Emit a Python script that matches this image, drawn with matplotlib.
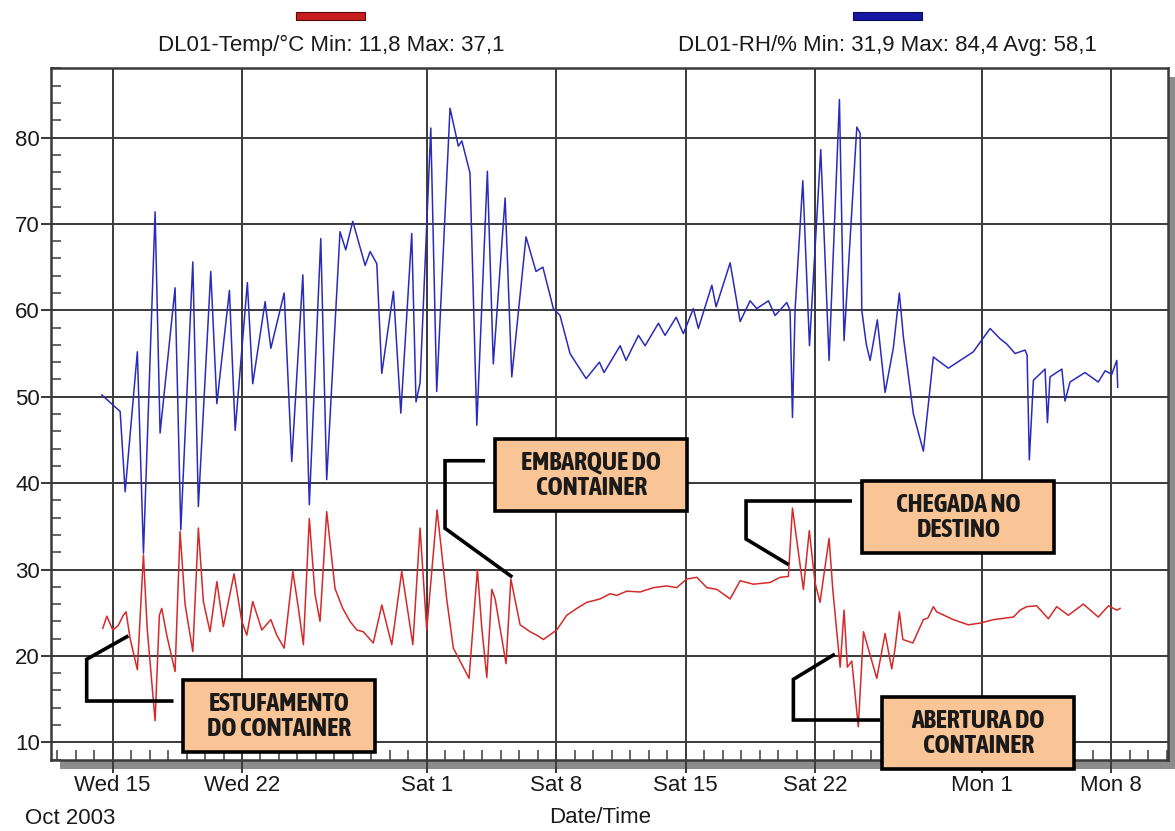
import matplotlib
matplotlib.use("Agg")
import numpy as np
import matplotlib.pyplot as plt
import matplotlib.dates as mdates
from matplotlib.patches import Rectangle
from matplotlib.ticker import FixedLocator, MultipleLocator

plt.rcParams["font.family"] = ["Liberation Sans", "DejaVu Sans"]

# days since Wed 15 Oct 2003
rh_day = [-0.58, 0.41, 0.68, 1.34, 1.67, 2.30, 2.57, 3.38, 3.69, 4.34,
          4.64, 5.31, 5.64, 6.32, 6.63, 7.29, 7.58, 8.25, 8.56, 9.28,
          9.69, 10.29, 10.64, 11.26, 11.58, 12.30, 12.61, 12.99, 13.66, 13.93,
          14.29, 14.56, 15.19, 15.59, 16.18, 16.41, 16.63, 17.21, 17.53, 18.25,
          18.70, 18.89, 19.33, 19.70, 20.27, 20.59, 21.23, 21.59, 22.36, 22.90,
          23.27, 23.84, 24.20, 24.74, 25.61, 26.33, 26.58, 27.45, 27.77, 28.44,
          28.80, 29.52, 29.88, 30.48, 30.87, 31.41, 31.68, 32.41, 32.64, 33.40,
          33.94, 34.48, 34.84, 35.47, 35.83, 36.46, 36.64, 36.77, 36.91, 37.33,
          37.69, 38.30, 38.75, 39.31, 39.56, 40.25, 40.43, 40.52, 40.76, 40.97,
          41.36, 41.78, 42.23, 42.55, 42.77, 43.31, 43.85, 44.39, 45.20, 45.84,
          46.55, 47.46, 48.00, 48.36, 48.81, 49.35, 49.46, 49.58, 49.80, 50.43,
          50.56, 50.70, 51.34, 51.51, 51.78, 52.59, 53.31, 53.68, 54.04, 54.31,
          54.36]
rh_val = [50.2, 48.3, 39.0, 55.2, 31.9, 71.4, 45.8, 62.6, 34.6, 65.6,
          37.3, 64.5, 49.2, 62.3, 46.1, 63.2, 51.5, 61.0, 55.6, 62.0,
          42.5, 64.1, 37.5, 68.3, 40.4, 69.1, 67.0, 70.3, 65.2, 66.8,
          65.4, 52.7, 62.2, 48.1, 68.9, 49.4, 51.6, 81.1, 50.6, 83.4,
          79.0, 79.6, 75.9, 46.7, 76.1, 53.8, 73.0, 52.3, 68.5, 64.5,
          65.0, 60.2, 59.4, 55.0, 52.1, 54.0, 52.8, 55.9, 54.2, 57.1,
          55.9, 58.5, 57.1, 59.2, 57.3, 60.2, 57.9, 62.9, 60.4, 65.5,
          58.7, 61.1, 60.2, 61.1, 59.4, 60.9, 60.0, 47.6, 60.0, 75.0,
          55.9, 78.6, 54.2, 84.4, 56.5, 81.2, 80.5, 60.0, 56.1, 54.2,
          58.9, 50.5, 55.7, 62.0, 56.9, 48.0, 43.7, 54.6, 53.3, 54.2,
          55.2, 57.9, 56.7, 56.1, 55.0, 55.4, 54.8, 42.7, 51.9, 53.2,
          47.0, 52.3, 53.2, 49.5, 51.7, 52.8, 51.7, 53.0, 52.6, 54.2,
          51.1]

temp_day = [-0.53, -0.31, 0.01, 0.30, 0.58, 0.73, 0.95, 1.34, 1.67, 1.87,
            2.30, 2.53, 2.66, 2.93, 3.38, 3.65, 3.92, 4.34, 4.64, 4.91,
            5.27, 5.64, 5.99, 6.57, 6.99, 7.26, 7.58, 8.07, 8.56, 8.88,
            9.28, 9.75, 10.05, 10.32, 10.64, 10.95, 11.22, 11.58, 12.03, 12.45,
            12.84, 13.21, 13.56, 14.10, 14.56, 15.10, 15.64, 16.24, 16.63, 16.99,
            17.55, 18.07, 18.43, 19.28, 19.73, 19.97, 20.24, 20.51, 20.69, 21.28,
            21.54, 22.04, 22.58, 22.94, 23.30, 24.02, 24.56, 25.11, 25.65, 26.37,
            26.91, 27.27, 27.81, 28.53, 29.25, 29.97, 30.51, 31.05, 31.60, 32.14,
            32.68, 33.40, 33.94, 34.66, 35.56, 36.10, 36.55, 36.77, 37.36, 37.68,
            37.99, 38.26, 38.75, 38.95, 39.35, 39.56, 39.74, 39.98, 40.33, 40.61,
            41.33, 41.78, 42.14, 42.32, 42.55, 42.74, 43.28, 43.85, 44.10, 44.39,
            44.57, 45.47, 46.28, 46.92, 47.64, 48.72, 49.08, 49.44, 49.98, 50.61,
            51.06, 51.69, 52.50, 53.31, 53.86, 54.31, 54.49]
temp_val = [23.2, 24.6, 23.0, 23.5, 24.7, 25.1, 22.0, 18.4, 31.7, 23.2,
            12.5, 24.7, 25.5, 22.4, 18.2, 34.4, 26.0, 20.5, 34.8, 26.3,
            22.8, 28.6, 23.4, 29.5, 24.0, 22.4, 26.3, 23.0, 24.2, 22.4,
            20.9, 29.8, 25.5, 21.3, 35.9, 27.1, 24.0, 36.7, 27.8, 25.5,
            24.0, 23.0, 22.8, 21.5, 25.9, 21.3, 29.8, 21.3, 34.8, 23.0,
            36.9, 26.6, 20.9, 17.4, 30.0, 23.2, 17.5, 27.7, 26.6, 19.1,
            28.9, 23.6, 22.8, 22.4, 21.9, 23.0, 24.7, 25.5, 26.2, 26.6,
            27.2, 27.0, 27.5, 27.4, 27.9, 28.1, 27.9, 28.9, 29.1, 27.9,
            27.7, 26.6, 28.7, 28.3, 28.5, 29.1, 29.2, 37.1, 27.7, 34.5,
            28.5, 26.2, 33.6, 27.7, 18.7, 25.3, 18.7, 19.4, 11.8, 22.8,
            17.4, 22.6, 18.5, 20.9, 25.1, 21.9, 21.5, 24.2, 24.4, 25.7,
            25.1, 24.2, 23.6, 23.8, 24.2, 24.5, 25.3, 25.7, 25.8, 24.3,
            25.7, 24.7, 26.0, 24.5, 25.8, 25.3, 25.5]

tick_dates = ["2003-10-15", "2003-10-22", "2003-11-01", "2003-11-08",
              "2003-11-15", "2003-11-22", "2003-12-01", "2003-12-08"]
tick_labels = ["Wed 15", "Wed 22", "Sat 1", "Sat 8", "Sat 15", "Sat 22", "Mon 1", "Mon 8"]

temp_label = "DL01-Temp/°C Min: 11,8 Max: 37,1"
rh_label = "DL01-RH/% Min: 31,9 Max: 84,4 Avg: 58,1"

notes = ["ESTUFAMENTO\nDO CONTAINER", "EMBARQUE DO\nCONTAINER",
         "CHEGADA NO\nDESTINO", "ABERTURA DO\nCONTAINER"]
note_left = [3.81, 20.68, 40.54, 41.62]
note_bottom = [8.9, 36.8, 31.9, 6.9]
leader_day = [[3.20, -1.40, -1.40, 0.77], [20.05, 17.98, 17.98, 21.54],
              [39.89, 34.26, 34.26, 36.48], [41.42, 36.82, 36.82, 38.98]]
leader_val = [[14.78, 14.78, 19.61, 22.22], [42.59, 42.59, 34.77, 29.25],
              [37.93, 37.93, 33.53, 30.67], [12.58, 12.58, 17.29, 20.10]]

W, H = 1175, 831
x0 = mdates.datestr2num("2003-10-15")

fig = plt.figure(figsize=(W / 100, H / 100), dpi=100)
ax_box = [51 / W, 1 - 759.6 / H, 1117 / W, 691.2 / H]
ax = fig.add_axes(ax_box)
ax.set_zorder(1)

# drop shadow behind the plot frame
fig.add_artist(Rectangle((ax_box[0] + 9 / W, ax_box[1] - 9 / H), ax_box[2], ax_box[3],
                         transform=fig.transFigure, facecolor="#8c8c8c",
                         edgecolor="none", zorder=0))

ax.plot(x0 + np.array(temp_day), temp_val, color="#d42a2a", lw=1.1, zorder=3)
ax.plot(x0 + np.array(rh_day), rh_val, color="#2b2bbb", lw=1.1, zorder=3)

ax.set_xlim(x0 - 3.33, x0 + 57.08)
ax.set_ylim(8, 88)
ax.xaxis.set_major_locator(FixedLocator(mdates.datestr2num(tick_dates)))
ax.set_xticklabels(tick_labels)
ax.xaxis.set_minor_locator(MultipleLocator(1))
ax.yaxis.set_major_locator(FixedLocator(np.arange(10, 81, 10)))
ax.yaxis.set_minor_locator(MultipleLocator(2))

ax.grid(which="major", color="#3a3a3a", lw=1.4)
for s in ax.spines.values():
    s.set_color("#3a3a3a")
    s.set_linewidth(1.8)
ax.tick_params(axis="both", which="major", direction="out", labelsize=16,
               color="#3a3a3a", width=1.4, colors="#1a1a1a")
ax.tick_params(axis="x", which="major", length=9, pad=2)
ax.tick_params(axis="y", which="major", length=7, pad=1)
ax.tick_params(axis="both", which="minor", direction="in", length=7, width=1.1, color="#3a3a3a")

ax.set_xlabel("Date/Time", fontsize=16, color="#1a1a1a")
ax.xaxis.set_label_coords((600 - 51) / 1117, -0.068)
fig.text(70 / W, 1 - 818 / H, "Oct 2003", fontsize=16, ha="center", va="center", color="#1a1a1a")

# legend keys and captions above the frame
fig.add_artist(Rectangle((296 / W, 1 - 20 / H), 69 / W, 8 / H, transform=fig.transFigure,
                         facecolor="#c81e1e", edgecolor="#5a0a0a", lw=0.8))
fig.add_artist(Rectangle((853 / W, 1 - 20 / H), 69 / W, 8 / H, transform=fig.transFigure,
                         facecolor="#1616a6", edgecolor="#0a0a50", lw=0.8))
fig.text(331 / W, 1 - 45 / H, temp_label, fontsize=16, ha="center", va="center", color="#1a1a1a")
fig.text(887 / W, 1 - 45 / H, rh_label, fontsize=16, ha="center", va="center", color="#1a1a1a")

note_w, note_h = 10.4, 8.3
note_font = ["Asap Condensed", "Barlow Condensed", "DejaVu Sans"]
for text, left, bottom, ld, lv in zip(notes, note_left, note_bottom, leader_day, leader_val):
    ax.plot(x0 + np.array(ld), lv, color="black", lw=2.6, solid_joinstyle="miter",
            clip_on=False, zorder=5)
    ax.add_patch(Rectangle((x0 + left, bottom), note_w, note_h, facecolor="#f9c596",
                           edgecolor="black", lw=2.6, clip_on=False, zorder=6))
    ax.text(x0 + left + note_w / 2, bottom + note_h / 2, text, ha="center", va="center",
            fontsize=18.5, fontweight="bold", linespacing=1.0, color="#1a1a1a",
            family=note_font, stretch="condensed", zorder=7, clip_on=False)

fig.savefig("out.png", dpi=100)
